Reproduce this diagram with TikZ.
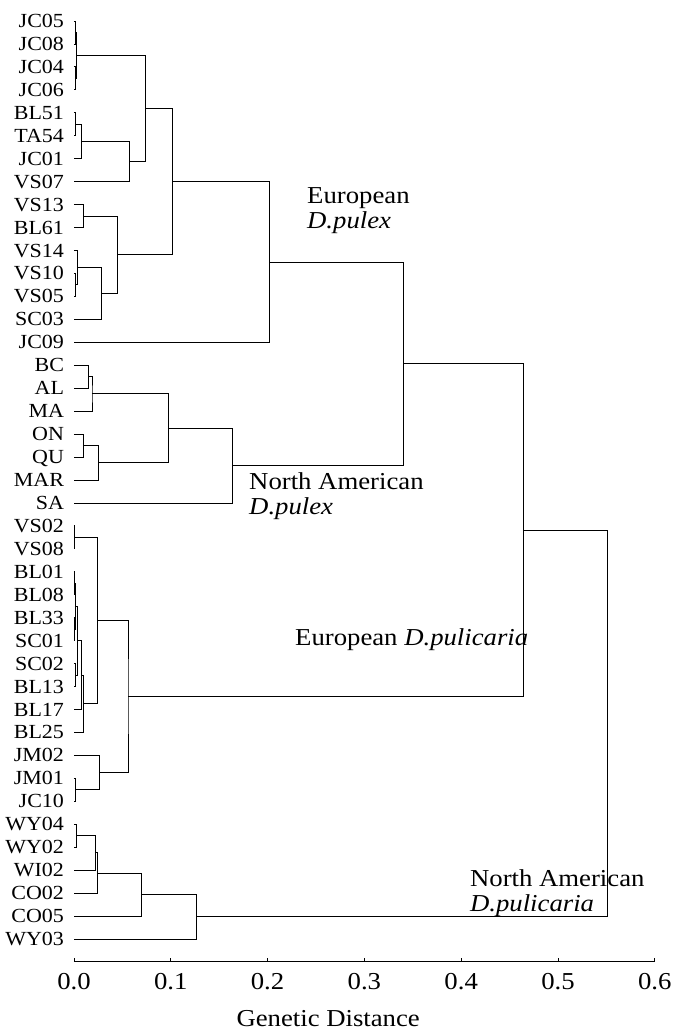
\documentclass[tikz,border=0pt]{standalone}
\usepackage{fontspec}
\setmainfont{Liberation Serif}[FakeStretch=1.1]
\usepackage{tikz}
\usetikzlibrary{matrix}
\usetikzlibrary{positioning}
\usetikzlibrary{calc}

\newcommand{\clade}[4]{%
  \path let \p1=($(#2)!.5!(#3)$), \p2=(#4,0) in (\x2,\y1) coordinate (#1);
  \draw[branch] (#2) -| (#1) |- (#3);}

\begin{document}
\begin{tikzpicture}
  [x=968pt, y=-1pt,
   branch/.style={line width=0.9pt},
   leaves/.style={matrix of nodes,
      inner sep=0pt, outer sep=0pt,
      row sep=0pt,
      nodes={anchor=east, font=\fontsize{20}{22}\selectfont,
        minimum height=22.95pt, text height=13pt, text depth=0pt,
        inner xsep=10pt, inner ysep=0pt, outer sep=0pt},
   },
   grp/.style={font=\fontsize{24.3}{26}\selectfont, inner sep=0pt, anchor=base west},
   ticklabel/.style={font=\fontsize{24.3}{26}\selectfont, inner sep=0pt},
  ]
  \useasboundingbox (-74/968,0) rectangle (601/968,1034);
  \matrix[leaves, anchor=north east] (leaf) at (0,9.525)
         {
           JC05 \\ JC08 \\ JC04 \\ JC06 \\ BL51 \\ TA54 \\ JC01 \\ VS07 \\
           VS13 \\ BL61 \\ VS14 \\ VS10 \\ VS05 \\ SC03 \\ JC09 \\
           BC \\ AL \\ MA \\ ON \\ QU \\ MAR \\ SA \\
           VS02 \\ VS08 \\ BL01 \\ BL08 \\ BL33 \\ SC01 \\ SC02 \\ BL13 \\
           BL17 \\ BL25 \\ JM02 \\ JM01 \\ JC10 \\
           WY04 \\ WY02 \\ WI02 \\ CO02 \\ CO05 \\ WY03 \\
         };

  \clade{p1}{leaf-1-1}{leaf-2-1}{0.001}
  \clade{p2}{leaf-3-1}{leaf-4-1}{0.001}
  \clade{p3}{p1}{p2}{0.003}
  \clade{p4}{leaf-5-1}{leaf-6-1}{0.002}
  \clade{p5}{p4}{leaf-7-1}{0.008}
  \clade{p6}{p5}{leaf-8-1}{0.057}
  \clade{p7}{p3}{p6}{0.074}
  \clade{p8}{leaf-9-1}{leaf-10-1}{0.0095}
  \clade{p9}{leaf-12-1}{leaf-13-1}{0.001}
  \clade{p10}{leaf-11-1}{p9}{0.004}
  \clade{p11}{p10}{leaf-14-1}{0.028}
  \clade{p12}{p8}{p11}{0.045}
  \clade{p13}{p7}{p12}{0.102}
  \clade{p14}{p13}{leaf-15-1}{0.2015}

  \clade{q1}{leaf-16-1}{leaf-17-1}{0.0145}
  \clade{q2}{q1}{leaf-18-1}{0.0186}
  \clade{q3}{leaf-19-1}{leaf-20-1}{0.0093}
  \clade{q4}{q3}{leaf-21-1}{0.0248}
  \clade{q5}{q2}{q4}{0.0971}
  \clade{q6}{q5}{leaf-22-1}{0.1632}
  \clade{r1}{p14}{q6}{0.3399}

  \clade{s1}{leaf-23-1}{leaf-24-1}{0.0005}
  \clade{s2}{leaf-25-1}{leaf-26-1}{0.0005}
  \clade{s3}{leaf-27-1}{leaf-28-1}{0.0005}
  \clade{s4}{s2}{s3}{0.001}
  \clade{s5}{leaf-29-1}{leaf-30-1}{0.002}
  \clade{s6}{s4}{s5}{0.004}
  \clade{s7}{s6}{leaf-31-1}{0.008}
  \clade{s8}{s7}{leaf-32-1}{0.0093}
  \clade{s9}{s1}{s8}{0.0238}
  \clade{s10}{leaf-34-1}{leaf-35-1}{0.002}
  \clade{s11}{leaf-33-1}{s10}{0.0258}
  \clade{s12}{s9}{s11}{0.0558}
  \clade{r2}{r1}{s12}{0.4638}

  \clade{u1}{leaf-36-1}{leaf-37-1}{0.003}
  \clade{u2}{u1}{leaf-38-1}{0.0217}
  \clade{u3}{u2}{leaf-39-1}{0.0238}
  \clade{u4}{u3}{leaf-40-1}{0.070}
  \clade{u5}{u4}{leaf-41-1}{0.127}
  \clade{r3}{r2}{u5}{0.5506}

  \node[grp] (eupx) at (0.2407,203) {European};
  \node[grp] (eupx2) at ([yshift=-25.7pt]eupx.base west) {\textit{D.pulex}};
  \node[grp] (napx) at (0.1808,489) {North American};
  \node[grp] (napx2) at ([yshift=-25.7pt]napx.base west) {\textit{D.pulex}};
  \node[grp] (eupc) at (0.2283,645) {European \textit{D.pulicaria}};
  \node[grp] (napc) at (0.409,886) {North American};
  \node[grp] (napc2) at ([yshift=-25.7pt]napc.base west) {\textit{D.pulicaria}};

  \coordinate (ax0) at (0,961);
  \coordinate (ax6) at (0.6,961);
  \draw[branch] (ax0) -- (ax6);
  \foreach \t in {0,...,6} {
    \draw[branch] (\t/10,961) -- (\t/10,957.5);
    \node[ticklabel] (lab\t) at (\t/10,982) {0.\t};
  }
  \node[ticklabel] (xtitle) at (0.2626,1019) {Genetic Distance};
\end{tikzpicture}
\end{document}
